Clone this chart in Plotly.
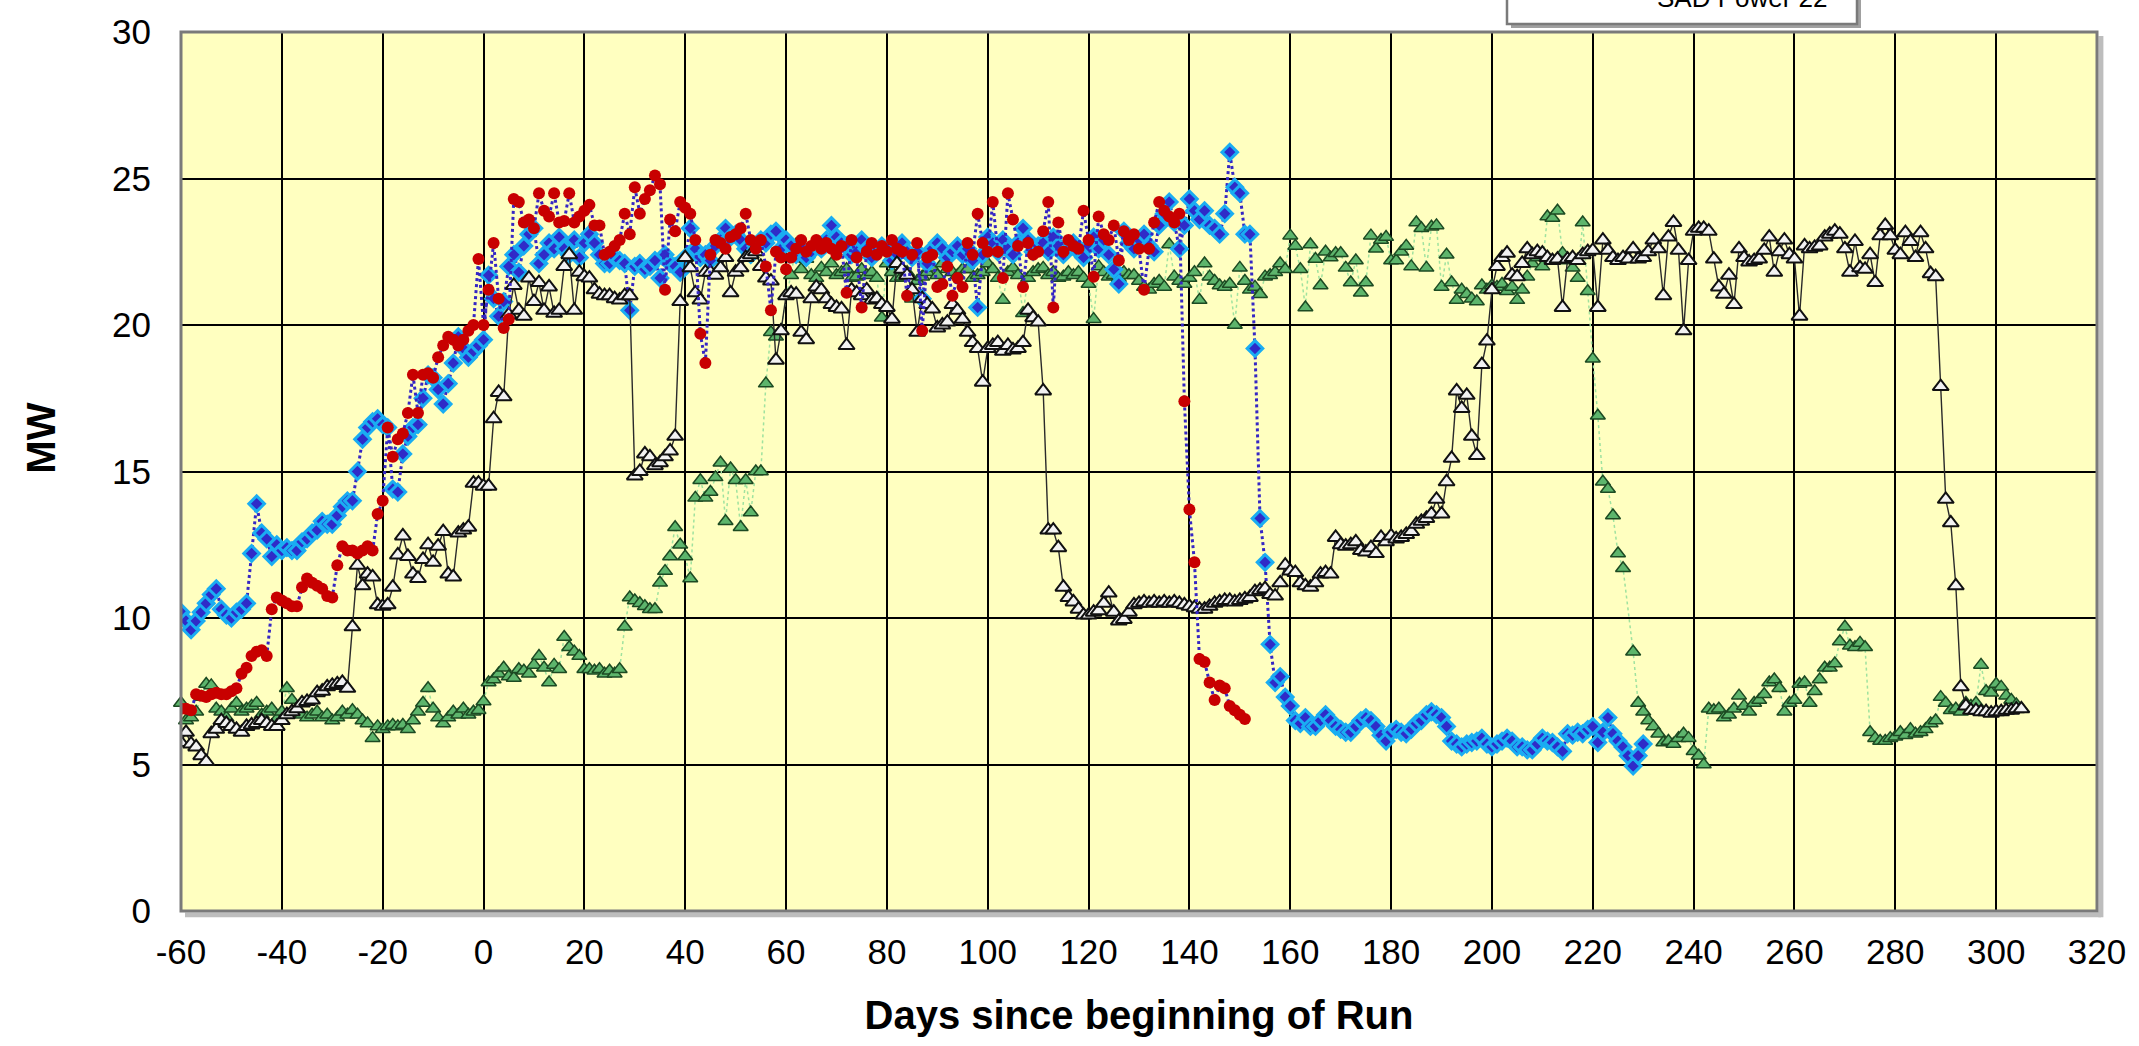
import plotly.graph_objects as go

# ---------------- data ----------------
blue_start = -60
blue_mw = [
    10.2, 9.9, 9.6, 9.9, 10.2, 10.5, 10.8, 11.0, 10.3, 10.1,
    10.0, 10.2, 10.3, 10.5, 12.2, 13.9, 12.9, 12.7, 12.1, 12.5,
    12.3, 12.4, 12.3, 12.3, 12.6, 12.7, 12.9, 13.0, 13.3, 13.2,
    13.2, 13.5, 13.8, 14.0, 14.0, 15.0, 16.1, 16.5, 16.7, 16.8,
    16.6, 16.5, 14.4, 14.3, 15.6, 16.2, 16.5, 16.6, 17.5, 18.3,
    18.2, 17.8, 17.3, 18.0, 18.7, 19.6, 19.2, 18.9, 19.1, 19.3,
    19.5, 21.7, 20.9, 20.3, 20.8, 22.0, 22.4, 21.8, 22.7, 23.1,
    23.3, 22.1, 22.4, 22.8, 22.6, 23.0, 22.6, 22.4, 22.9, 22.3,
    22.8, 23.1, 22.8, 22.4, 22.1, 22.1, 22.3, 22.2, 22.1, 20.5,
    22.0, 22.1, 21.9, 22.0, 22.2, 21.6, 22.4, 22.1, 22.0, 21.8,
    22.3, 23.3, 22.6, 22.3, 22.4, 22.2, 22.7, 22.9, 23.3, 23.0,
    23.1, 22.9, 22.6, 22.4, 22.7, 22.9, 22.8, 23.1, 23.2, 22.6,
    22.9, 22.7, 22.4, 22.6, 22.3, 22.5, 22.7, 22.6, 22.9, 23.4,
    23.0, 22.8, 22.7, 22.4, 22.5, 22.9, 22.6, 22.3, 22.5, 22.7,
    22.6, 22.2, 22.4, 22.8, 22.5, 22.3, 22.5, 20.9, 22.1, 22.6,
    22.8, 22.6, 22.3, 22.5, 22.7, 22.4, 22.6, 22.2, 20.6, 22.4,
    23.0, 22.8, 22.5, 22.9, 22.6, 22.4, 22.8, 23.3, 22.9, 22.5,
    22.7, 22.8, 22.5, 23.0, 22.7, 22.4, 22.6, 22.8, 22.5, 22.3,
    22.7, 23.0, 22.6, 22.9, 22.4, 21.9, 21.4, 23.2, 22.8, 22.6,
    22.9, 23.1, 22.7, 22.5, 23.4, 23.8, 24.2, 23.5, 22.6, 23.4,
    24.3, 23.9, 23.6, 23.9, 23.4, 23.3, 23.1, 23.8, 25.9, 24.7,
    24.5, 23.1, 23.1, 19.2, 13.4, 11.9, 9.1, 7.8, 8.0, 7.3,
    7.0, 6.5, 6.4, 6.6, 6.3, 6.3, 6.5, 6.7, 6.5, 6.3,
    6.2, 6.1, 6.1, 6.3, 6.5, 6.6, 6.5, 6.3, 6.0, 5.8,
    6.1, 6.2, 6.1, 6.05, 6.2, 6.4, 6.5, 6.7, 6.8, 6.7,
    6.6, 6.3, 5.8, 5.7, 5.6, 5.7, 5.75, 5.8, 5.9, 5.7,
    5.6, 5.7, 5.8, 5.9, 5.8, 5.6, 5.6, 5.5, 5.5, 5.7,
    5.9, 5.8, 5.75, 5.6, 5.45, 6.05, 6.0, 6.1, 6.05, 6.2,
    6.3, 5.75, 6.1, 6.6, 6.05, 5.8, 5.6, 5.3, 4.95, 5.3,
    5.7,
]

red_start = -60
red_mw = [
    6.9, 6.9, 6.85, 7.4, 7.35, 7.3, 7.4, 7.45, 7.4, 7.4,
    7.5, 7.6, 8.1, 8.3, 8.7, 8.85, 8.9, 8.7, 10.3, 10.7,
    10.6, 10.5, 10.4, 10.4, 11.05, 11.35, 11.2, 11.1, 11.0, 10.75,
    10.7, 11.8, 12.45, 12.3, 12.3, 12.2, 12.3, 12.45, 12.3, 13.55,
    14.0, 16.5, 15.5, 16.1, 16.3, 17.0, 18.3, 17.0, 18.3, 18.35,
    18.2, 18.9, 19.3, 19.6, 19.5, 19.3, 19.5, 19.8, 20.0, 22.25,
    20.0, 21.2, 22.8, 20.9, 19.9, 20.2, 24.3, 24.2, 23.5, 23.6,
    23.3, 24.5, 23.9, 23.7, 24.5, 23.5, 23.55, 24.5, 23.5, 23.7,
    23.9, 24.1, 23.4, 23.4, 22.4, 22.5, 22.7, 22.9, 23.8, 23.1,
    24.7, 23.8, 24.3, 24.6, 25.1, 24.8, 21.2, 23.6, 23.2, 24.2,
    24.0, 23.8, 22.9, 19.7, 18.7, 22.4, 22.9, 22.8, 22.6, 23.0,
    23.1, 23.3, 23.8, 22.9, 22.6, 22.9, 22.0, 20.5, 22.5, 22.3,
    21.9, 22.3, 22.6, 22.9, 22.5, 22.7, 22.9, 22.6, 22.8, 22.6,
    22.4, 22.7, 21.1, 22.9, 22.3, 20.6, 22.5, 22.8, 22.4, 22.7,
    22.5, 22.9, 22.6, 22.5, 21.0, 22.4, 22.8, 19.8, 22.3, 22.4,
    21.3, 21.4, 22.0, 21.0, 21.6, 21.3, 22.8, 22.4, 23.8, 22.8,
    22.5, 24.2, 22.5, 21.6, 24.5, 23.6, 22.7, 21.3, 22.8, 22.4,
    22.5, 23.2, 24.2, 20.6, 23.5, 22.5, 22.9, 22.7, 22.6, 23.9,
    22.9, 21.65, 23.7, 23.1, 22.9, 23.4, 22.2, 23.2, 22.9, 23.1,
    22.6, 21.2, 22.6, 23.5, 24.2, 23.9, 23.7, 23.5, 23.8, 17.4,
    13.7, 11.9, 8.6, 8.5, 7.8, 7.2, 7.7, 7.6, 7.0, 6.85,
    6.7, 6.55,
]

green_start = -60
green_mw = [
    7.1, 6.5, 6.6, 6.8, 7.3, 7.75, 7.7, 6.9, 6.8, 6.6,
    6.9, 7.1, 6.8, 6.9, 7.0, 7.1, 6.7, 6.8, 6.9, 6.55,
    6.8, 7.6, 7.2, 6.9, 6.7, 6.6, 6.7, 6.8, 6.6, 6.7,
    6.5, 6.6, 6.8, 6.7, 6.85, 6.7, 6.5, 6.4, 5.9, 6.3,
    6.2, 6.3, 6.35, 6.3, 6.35, 6.2, 6.5, 6.8, 7.1, 7.6,
    6.9, 6.6, 6.4, 6.6, 6.8, 6.7, 6.9, 6.7, 6.8, 6.85,
    7.15, 7.8, 7.9, 8.1, 8.3, 8.0, 7.95, 8.25, 8.2, 8.1,
    8.4, 8.7, 8.3, 7.8, 8.4, 8.25, 9.35, 9.0, 8.85, 8.7,
    8.25, 8.25, 8.2, 8.25, 8.1, 8.2, 8.1, 8.25, 9.7, 10.7,
    10.6, 10.5, 10.4, 10.3, 10.3, 11.2, 11.6, 12.1, 13.1, 12.5,
    12.1, 11.35, 14.1, 14.7, 14.1, 14.3, 14.8, 15.3, 13.3, 15.1,
    14.7, 13.1, 14.7, 13.6, 15.0, 15.0, 18.0, 19.75, 19.6, 19.8,
    21.0, 21.7, 22.75, 21.9, 22.25, 21.7, 21.6, 21.95, 21.8, 22.1,
    21.7, 21.8, 21.9, 21.6, 21.65, 21.9, 21.7, 21.8, 21.6, 20.25,
    22.1, 21.8, 21.6, 21.65, 21.8, 20.9, 21.5, 21.65, 21.8, 21.95,
    21.7, 22.1, 21.9, 21.8, 21.7, 21.9, 21.9, 21.6, 21.7, 21.8,
    22.1, 21.9, 21.6, 20.85, 21.8, 21.95, 21.7, 20.4, 21.6, 21.8,
    21.9, 21.95, 21.7, 21.8, 21.6, 21.65, 21.8, 21.7, 21.8, 21.6,
    21.4, 20.2, 22.0, 21.8, 21.65, 21.7, 21.6, 21.8, 21.7, 21.7,
    21.5, 21.3, 21.2, 21.4, 21.5, 21.3, 22.75, 21.65, 21.5, 21.4,
    21.6, 21.8, 20.85, 22.1, 21.65, 21.5, 21.35, 21.3, 21.4, 20.0,
    21.95, 21.5, 21.2, 21.3, 21.05, 21.65, 21.7, 21.8, 22.1, 21.9,
    23.05, 22.7, 21.9, 20.6, 22.75, 22.25, 21.35, 22.5, 22.3, 22.45,
    22.45, 21.95, 21.45, 22.2, 21.1, 21.45, 23.05, 22.6, 22.9, 23.0,
    22.2, 22.2, 22.5, 22.7, 22.0, 23.5, 23.3, 21.95, 23.35, 23.4,
    21.3, 22.4, 21.45, 20.85, 21.2, 21.05, 20.9, 20.8, 21.35, 21.2,
    21.35, 21.3, 21.4, 21.15, 21.3, 20.85, 21.2, 21.65, 22.1, 22.3,
    22.0, 23.7, 23.65, 23.9, 22.45, 22.2, 21.95, 21.6, 23.5, 21.15,
    18.85, 16.9, 14.65, 14.4, 13.5, 12.2, 11.7, None, 8.85, 7.1,
    6.8, 6.5, 6.3, 6.05, 5.75, 5.8, 5.7, 5.9, 6.05, 5.9,
    5.45, 5.3, 5.0, 6.9, 6.85, 6.9, 6.6, 6.7, 6.9, 7.35,
    7.0, 6.8, 7.1, 7.2, 7.4, 7.8, 7.9, 7.6, 6.8, 7.1,
    7.2, 7.75, 7.8, 7.1, 7.5, 7.9, 8.3, 8.3, 8.45, 9.2,
    9.7, 9.05, 9.0, 9.15, 9.0, 6.1, 5.9, 5.8, 5.8, 5.9,
    5.95, 6.1, 6.0, 6.2, 6.05, 6.1, 6.2, 6.4, 6.5, 7.3,
    7.1, 6.85, 6.9, 6.8, 7.1, 7.0, 7.1, 8.4, 7.5, 7.45,
    7.75, 7.65, 7.35, 7.2, 7.05, 6.9,
]

black_start = -60
black_mw = [
    5.75, 6.1, 5.7, 5.6, 5.3, 5.1, 6.05, 6.2, 6.5, 6.4,
    6.3, 6.2, 6.1, 6.3, 6.35, 6.4, 6.5, 6.4, 6.3, 6.3,
    6.5, 6.7, 6.8, 6.9, 7.1, 7.15, 7.2, 7.45, 7.5, 7.65,
    7.7, 7.75, 7.8, 7.6, 9.7, 11.8, 11.1, 11.5, 11.4, 10.45,
    10.4, 10.45, 11.05, 12.15, 12.8, 12.1, 11.5, 11.35, 12.0, 12.5,
    11.9, 12.45, 12.95, 11.5, 11.4, 12.9, 13.0, 13.1, 14.6, 14.6,
    14.5, 14.5, 16.8, 17.7, 17.55, 20.35, 21.35, 20.5, 20.3, 21.6,
    20.8, 21.45, 20.5, 21.3, 20.4, 20.5, 22.0, 22.4, 20.5, 21.8,
    21.65, 21.6, 21.2, 21.05, 21.0, 21.0, 20.9, 20.85, 21.0, 21.0,
    14.85, 15.0, 15.6, 15.5, 15.2, 15.3, 15.5, 15.7, 16.2, 20.8,
    22.3, 21.95, 21.1, 20.85, 21.8, 21.8, 21.7, 21.95, 22.3, 21.1,
    21.8, 21.95, 22.3, 22.4, 22.5, 22.0, 21.6, 21.5, 18.8, 19.8,
    21.0, 21.1, 21.05, 19.75, 19.5, 20.9, 21.3, 21.2, 20.9, 20.7,
    20.6, 20.55, 19.3, 21.2, 21.1, 21.0, 21.2, 20.85, 20.9, 20.7,
    20.6, 20.2, 22.1, 21.9, 21.7, 21.2, 19.75, 20.9, 20.7, 20.55,
    19.9, 20.0, 20.1, 20.7, 20.5, 20.2, 19.75, 19.4, 19.2, 18.05,
    19.2, 19.3, 19.4, 19.1, 19.3, 19.15, 19.2, 19.4, 20.5, 20.25,
    20.1, 17.75, 13.0, 13.0, 12.4, 11.05, 10.7, 10.55, 10.3, 10.1,
    10.1, 10.2, 10.25, 10.5, 10.85, 10.2, 9.9, 9.95, 10.2, 10.45,
    10.5, 10.55, 10.5, 10.55, 10.5, 10.55, 10.5, 10.55, 10.5, 10.45,
    10.4, 10.35, 10.3, 10.3, 10.4, 10.5, 10.55, 10.6, 10.6, 10.55,
    10.6, 10.65, 10.7, 10.9, 10.95, 11.0, 10.8, 10.75, 11.2, 11.8,
    11.6, 11.55, 11.2, 11.1, 11.05, 11.2, 11.5, 11.55, 11.5, 12.75,
    12.5, 12.45, 12.5, 12.6, 12.3, 12.25, 12.4, 12.2, 12.75, 12.6,
    12.8, 12.7, 12.75, 12.85, 12.95, 13.2, 13.3, 13.4, 13.55, 14.05,
    13.55, 14.65, 15.45, 17.75, 17.15, 17.6, 16.2, 15.55, 18.65, 19.45,
    21.2, 22.0, 22.3, 22.45, 21.7, 21.65, 22.1, 22.6, 22.4, 22.5,
    22.45, 22.3, 22.2, 22.25, 20.6, 22.25, 22.3, 22.2, 22.4, 22.5,
    22.55, 20.6, 22.9, 22.55, 22.3, 22.2, 22.3, 22.25, 22.6, 22.25,
    22.3, 22.5, 22.9, 22.6, 21.0, 23.0, 23.5, 22.55, 19.8, 22.2,
    23.2, 23.3, 23.3, 23.2, 22.25, 21.3, 21.05, 21.7, 20.7, 22.6,
    22.3, 22.15, 22.2, 22.25, 22.55, 23.0, 21.8, 22.5, 22.9, 22.4,
    22.25, 20.3, 22.7, 22.6, 22.65, 22.7, 23.0, 23.1, 23.2, 23.1,
    22.6, 21.8, 22.85, 21.95, 21.9, 22.4, 21.45, 23.05, 23.4, 23.05,
    22.55, 22.4, 23.15, 22.85, 22.3, 23.15, 22.6, 21.75, 21.65, 17.9,
    14.05, 13.25, 11.1, 7.65, 7.0, 6.85, 6.85, 6.8, 6.8, 6.75,
    6.8, 6.8, 6.85, 6.85, 6.9, 6.9,
]

x_ticks = list(range(-60, 321, 20))
y_ticks = [0, 5, 10, 15, 20, 25, 30]
legend_label = "SAD Power 22"
x_title = "Days since beginning of Run"
y_title = "MW"


def days(start, vals):
    return [start + i for i in range(len(vals))]


# ---------------- figure ----------------
W, H = 2139, 1046
L, R, T, B = 181, 42, 27, 135
PW, PH = W - L - R, H - T - B

fig = go.Figure()

fig.add_trace(go.Scatter(
    x=days(green_start, green_mw), y=green_mw, mode="lines+markers",
    connectgaps=True, cliponaxis=False,
    line=dict(color="#9FE29F", width=1.5, dash="dot"),
    marker=dict(symbol="triangle-up", size=13, color="#5DB56C",
                line=dict(color="#1C4A22", width=1.5)),
    showlegend=False))

fig.add_trace(go.Scatter(
    x=days(blue_start, blue_mw), y=blue_mw, mode="lines+markers",
    line=dict(color="#3526C4", width=3, dash="dot"),
    marker=dict(symbol="diamond", size=12, color="#2F2BC8",
                line=dict(color="#1AADF2", width=3)),
    showlegend=False))

fig.add_trace(go.Scatter(
    x=days(black_start, black_mw), y=black_mw, mode="lines+markers",
    line=dict(color="#2A2A2A", width=1.4),
    marker=dict(symbol="triangle-up", size=14, color="#F2F2F2",
                line=dict(color="#111111", width=2)),
    showlegend=False))

fig.add_trace(go.Scatter(
    x=days(red_start, red_mw), y=red_mw, mode="lines+markers",
    line=dict(color="#3526C4", width=3, dash="dot"),
    marker=dict(symbol="circle", size=12, color="#C80000",
                line=dict(color="#C80000", width=0)),
    showlegend=False))

FONT = "Liberation Sans, Arial, sans-serif"
axis_font = dict(family=FONT, size=35, color="#000000")
title_font = dict(family=FONT, size=40, color="#000000")

fig.update_layout(
    width=W, height=H,
    margin=dict(l=L, r=R, t=T, b=B, pad=0),
    paper_bgcolor="#FFFFFF",
    plot_bgcolor="#FFFFC0",
    showlegend=False,
    xaxis=dict(
        range=[-60, 320], tickvals=x_ticks, ticktext=[str(v) for v in x_ticks],
        showgrid=True, gridcolor="#000000", gridwidth=1.5,
        zeroline=False, showline=False,
        ticks="outside", ticklen=10, tickcolor="rgba(0,0,0,0)",
        tickfont=axis_font,
        title=dict(text="<b>" + x_title + "</b>", font=title_font, standoff=30),
    ),
    yaxis=dict(
        range=[0, 30], tickvals=y_ticks, ticktext=[str(v) for v in y_ticks],
        showgrid=True, gridcolor="#000000", gridwidth=1.5,
        zeroline=False, showline=False,
        ticks="outside", ticklen=22, tickcolor="rgba(0,0,0,0)",
        tickfont=axis_font,
    ),
)


def px_x(px):
    return (px - L) / PW


def px_y(py):
    return (H - B - py) / PH


# y-axis title placed as in the reference (slightly above centre)
fig.add_annotation(xref="paper", yref="paper", x=px_x(41), y=px_y(436),
                   xanchor="center", yanchor="middle", showarrow=False,
                   textangle=-90, text="<b>" + y_title + "</b>",
                   font=title_font)

# plot-area shadow and border
sx, sy = 4 / PW, 4 / PH
fig.add_shape(type="rect", xref="paper", yref="paper",
              x0=sx, x1=1 + sx, y0=-sy * 1.6, y1=-sy * 0.35,
              fillcolor="#BDBDBD", line=dict(width=0), layer="below")
fig.add_shape(type="rect", xref="paper", yref="paper",
              x0=1 + sx * 0.35, x1=1 + sx * 1.6, y0=-sy * 1.6, y1=1 - sy,
              fillcolor="#BDBDBD", line=dict(width=0), layer="below")
fig.add_shape(type="rect", xref="paper", yref="paper",
              x0=0, x1=1, y0=0, y1=1,
              line=dict(color="#7A7A7A", width=3), layer="above")

# legend box (mostly cropped above the top of the image, as in the reference)
fig.add_shape(type="rect", xref="paper", yref="paper",
              x0=px_x(1511), x1=px_x(1861), y0=px_y(23), y1=px_y(-40),
              fillcolor="#A0A0A0", line=dict(width=0))
fig.add_shape(type="rect", xref="paper", yref="paper",
              x0=px_x(1507), x1=px_x(1857), y0=px_y(19), y1=px_y(-40),
              fillcolor="#FFFFFF", line=dict(color="#7A7A7A", width=2.5))
fig.add_annotation(xref="paper", yref="paper", x=px_x(1830), y=px_y(-7),
                   xanchor="right", yanchor="middle", showarrow=False,
                   text=legend_label,
                   font=dict(family=FONT, size=26, color="#000000"))

fig.write_html("out.html")
